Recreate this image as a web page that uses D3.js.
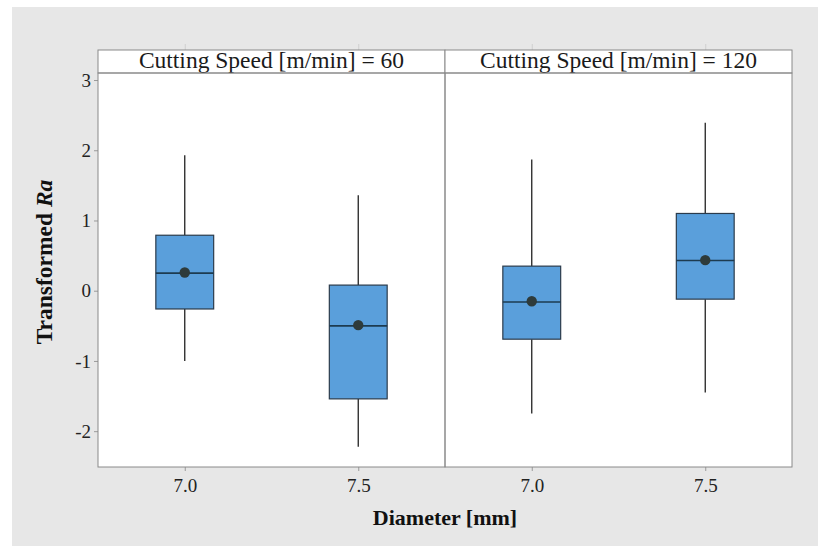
<!DOCTYPE html>
<html>
<head>
<meta charset="utf-8">
<script src="https://cdn.jsdelivr.net/npm/d3@7/dist/d3.min.js"></script>
<style>
  html, body { margin: 0; padding: 0; background: #ffffff; }
  svg { display: block; }
</style>
</head>
<body>
<svg id="chart" width="818" height="546"></svg>
<script>
// ---- data ----
const panels = ["Cutting Speed [m/min] = 60", "Cutting Speed [m/min] = 120"];
const diameters = ["7.0", "7.5"];
// per panel, per diameter
const whiskerLow  = [[-1.00, -2.22], [-1.75, -1.45]];
const q1          = [[-0.26, -1.54], [-0.69, -0.12]];
const medians     = [[ 0.25, -0.50], [-0.16,  0.43]];
const q3          = [[ 0.79,  0.08], [ 0.35,  1.10]];
const whiskerHigh = [[ 1.93,  1.36], [ 1.87,  2.39]];
const means       = [[ 0.26, -0.49], [-0.15,  0.435]];
const yTicks = [-2, -1, 0, 1, 2, 3];
const yDomain = [-2.51, 3.10];

// ---- layout ----
const svg = d3.select("#chart");
const W = 818, H = 546;
const plotLeft = 98, plotRight = 792, stripTop = 50, stripBottom = 73, plotBottom = 467;
const panelW = (plotRight - plotLeft) / panels.length;
const serif = "'Liberation Serif', 'DejaVu Serif', serif";

// outer gray background
svg.append("rect").attr("x", 0).attr("y", 0).attr("width", W).attr("height", H).attr("fill", "#ffffff");
svg.append("rect").attr("x", 12).attr("y", 7).attr("width", W - 12).attr("height", H - 7).attr("fill", "#e7e7e7");

const y = d3.scaleLinear().domain(yDomain).range([plotBottom, stripBottom]);

// plot area white background
svg.append("rect").attr("x", plotLeft).attr("y", stripTop)
  .attr("width", plotRight - plotLeft).attr("height", plotBottom - stripTop)
  .attr("fill", "#ffffff");

// y axis
const yAxis = d3.axisLeft(y).tickValues(yTicks).tickSize(4).tickPadding(3)
  .tickFormat(d => d3.format("d")(d).replace("−", "-"));
const gy = svg.append("g").attr("transform", `translate(${plotLeft},0)`).call(yAxis);
gy.attr("font-family", null).attr("font-size", null);
gy.select(".domain").remove();
gy.selectAll(".tick line").attr("stroke", "#9a9a9a");
gy.selectAll(".tick text").style("font-family", serif).style("font-size", "19px").attr("fill", "#222");

panels.forEach((title, p) => {
  const x0 = plotLeft + p * panelW;
  const x = d3.scalePoint().domain(diameters).range([x0, x0 + panelW]).padding(0.5);
  const bw = x.step() / 3;

  // bottom axis
  const xAxis = d3.axisBottom(x).tickSize(4).tickPadding(8);
  const gx = svg.append("g").attr("transform", `translate(0,${plotBottom})`).call(xAxis);
  gx.attr("font-family", null).attr("font-size", null);
  gx.select(".domain").remove();
  gx.selectAll(".tick line").attr("stroke", "#9a9a9a");
  gx.selectAll(".tick text").style("font-family", serif).style("font-size", "19px").attr("fill", "#222");

  // faint top ticks above strip
  const gt = svg.append("g").attr("transform", `translate(0,${stripTop})`).call(d3.axisTop(x).tickSize(6).tickFormat(""));
  gt.select(".domain").remove();
  gt.selectAll(".tick line").attr("stroke", "#cfcfcf");

  // strip
  svg.append("rect").attr("x", x0).attr("y", stripTop).attr("width", panelW).attr("height", stripBottom - stripTop)
    .attr("fill", "#ffffff").attr("stroke", "#8a8a8a").attr("stroke-width", 1);
  svg.append("text").attr("x", x0 + panelW / 2).attr("y", stripTop + 18)
    .attr("text-anchor", "middle").style("font-family", serif).style("font-size", "23.5px").attr("fill", "#1a1a1a")
    .text(title);

  // panel border
  svg.append("rect").attr("x", x0).attr("y", stripBottom).attr("width", panelW).attr("height", plotBottom - stripBottom)
    .attr("fill", "none").attr("stroke", "#8a8a8a").attr("stroke-width", 1);

  // boxes
  diameters.forEach((d, i) => {
    const cx = x(d);
    const g = svg.append("g");
    g.append("line").attr("x1", cx).attr("x2", cx)
      .attr("y1", y(whiskerHigh[p][i])).attr("y2", y(q3[p][i]))
      .attr("stroke", "#222").attr("stroke-width", 1.3);
    g.append("line").attr("x1", cx).attr("x2", cx)
      .attr("y1", y(q1[p][i])).attr("y2", y(whiskerLow[p][i]))
      .attr("stroke", "#222").attr("stroke-width", 1.3);
    g.append("rect").attr("x", cx - bw / 2).attr("y", y(q3[p][i]))
      .attr("width", bw).attr("height", y(q1[p][i]) - y(q3[p][i]))
      .attr("fill", "#5a9fdb").attr("stroke", "#2b3b4b").attr("stroke-width", 1.2);
    g.append("line").attr("x1", cx - bw / 2).attr("x2", cx + bw / 2)
      .attr("y1", y(medians[p][i])).attr("y2", y(medians[p][i]))
      .attr("stroke", "#1d3b50").attr("stroke-width", 1.6);
    g.append("circle").attr("cx", cx).attr("cy", y(means[p][i])).attr("r", 5.2)
      .attr("fill", "#2e3b3b");
  });
});

// axis titles
svg.append("text").attr("x", (plotLeft + plotRight) / 2).attr("y", 525)
  .attr("text-anchor", "middle").style("font-family", serif).style("font-size", "22px")
  .attr("font-weight", "bold").attr("fill", "#111").text("Diameter [mm]");

const yl = svg.append("text").attr("transform", `translate(52,262) rotate(-90)`)
  .attr("text-anchor", "middle").style("font-family", serif).style("font-size", "23.5px")
  .attr("font-weight", "bold").attr("fill", "#111");
yl.append("tspan").text("Transformed ");
yl.append("tspan").attr("font-style", "italic").text("Ra");
</script>
</body>
</html>
